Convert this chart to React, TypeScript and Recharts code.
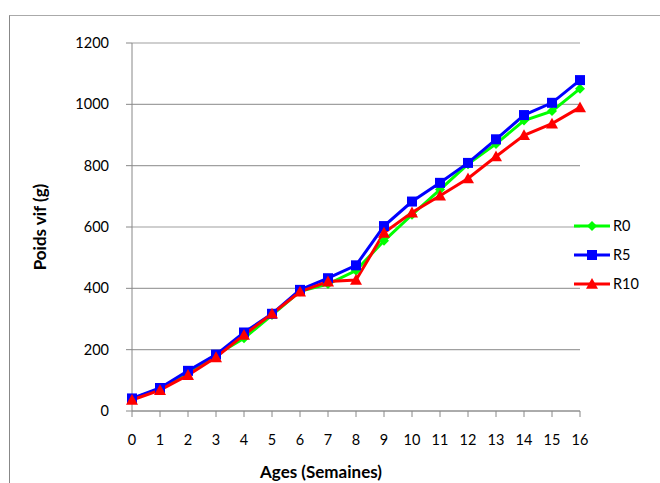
import { CartesianGrid, Legend, Line, LineChart, XAxis, YAxis } from 'recharts';

const weeks = [0, 1, 2, 3, 4, 5, 6, 7, 8, 9, 10, 11, 12, 13, 14, 15, 16];
const r0 = [40, 72, 125, 183, 237, 313, 390, 414, 458, 555, 640, 722, 805, 871, 947, 978, 1051];
const r5 = [41, 75, 131, 184, 256, 317, 395, 433, 475, 603, 683, 744, 809, 886, 965, 1005, 1079];
const r10 = [36, 68, 117, 175, 248, 317, 389, 422, 427, 581, 647, 702, 758, 830, 899, 937, 990];
const yTicks = [0, 200, 400, 600, 800, 1000, 1200];

const data = weeks.map((w, i) => ({ week: w, R0: r0[i], R5: r5[i], R10: r10[i] }));

const FONT = 'Lato, "Open Sans", sans-serif';

function Diamond({ cx, cy, fill }: any) {
  if (cx == null || cy == null) return null;
  const s = 5;
  return <path d={`M${cx},${cy - s}L${cx + s},${cy}L${cx},${cy + s}L${cx - s},${cy}Z`} fill={fill} />;
}

function Square({ cx, cy, fill }: any) {
  if (cx == null || cy == null) return null;
  const s = 5;
  return <rect x={cx - s} y={cy - s} width={s * 2} height={s * 2} fill={fill} />;
}

function Triangle({ cx, cy, fill }: any) {
  if (cx == null || cy == null) return null;
  const s = 6;
  return <path d={`M${cx},${cy - s}L${cx + s},${cy + s * 0.8}L${cx - s},${cy + s * 0.8}Z`} fill={fill} />;
}

const series = [
  { key: 'R0', color: '#00ff00', Dot: Diamond },
  { key: 'R5', color: '#0000ff', Dot: Square },
  { key: 'R10', color: '#ff0000', Dot: Triangle },
];

function LegendContent() {
  return (
    <div>
      {series.map(({ key, color, Dot }) => (
        <div key={key} style={{ display: 'flex', alignItems: 'center', height: 29 }}>
          <svg width={36} height={14}>
            <line x1={0} y1={7} x2={36} y2={7} stroke={color} strokeWidth={3} />
            <Dot cx={18} cy={7} fill={color} />
          </svg>
          <span style={{ fontFamily: FONT, fontSize: 14.5, color: '#000', marginLeft: 3 }}>{key}</span>
        </div>
      ))}
    </div>
  );
}

export default function App() {
  return (
    <div style={{ position: 'absolute', left: 0, top: 0, width: 660, height: 483, background: '#fff', overflow: 'hidden' }}>
      <div
        style={{
          position: 'absolute',
          left: 9,
          top: 15,
          width: 660,
          height: 480,
          borderTop: '1.5px solid #aaaaaa',
          borderLeft: '1.5px solid #888888',
        }}
      />
      <div style={{ position: 'absolute', left: 0, top: 0 }}>
        <LineChart width={660} height={483} data={data} margin={{ top: 43, right: 80, bottom: 0, left: 0 }}>
          <CartesianGrid horizontal vertical={false} stroke="#a0a0a0" strokeWidth={1.2} />
          <XAxis
            dataKey="week"
            type="number"
            domain={[0, 16]}
            ticks={weeks}
            height={72}
            tickSize={6}
            tickMargin={18}
            stroke="#888888"
            tick={{ fill: '#000', fontSize: 14.5, fontFamily: FONT }}
            label={{
              value: 'Ages (Semaines)',
              position: 'insideBottom',
              offset: 5,
              dx: -35,
              style: { fontFamily: FONT, fontSize: 17, fontWeight: 700, fill: '#000' },
            }}
          />
          <YAxis
            domain={[0, 1200]}
            ticks={yTicks}
            width={132}
            tickSize={6}
            tickMargin={17}
            stroke="#888888"
            tick={{ fill: '#000', fontSize: 14.5, fontFamily: FONT }}
            label={{
              value: 'Poids vif (g)',
              angle: -90,
              position: 'center',
              dx: -26,
              style: { fontFamily: FONT, fontSize: 17, fontWeight: 700, fill: '#000', textAnchor: 'middle' },
            }}
          />
          <Legend
            layout="vertical"
            align="center"
            verticalAlign="middle"
            content={<LegendContent />}
            wrapperStyle={{ left: 574, top: 211, width: 80 }}
          />
          {series.map(({ key, color, Dot }) => (
            <Line
              key={key}
              dataKey={key}
              name={key}
              type="linear"
              stroke={color}
              strokeWidth={3}
              dot={(p: any) => <Dot key={`${key}-${p.index}`} cx={p.cx} cy={p.cy} fill={color} />}
              activeDot={false}
              isAnimationActive={false}
            />
          ))}
        </LineChart>
      </div>
    </div>
  );
}
